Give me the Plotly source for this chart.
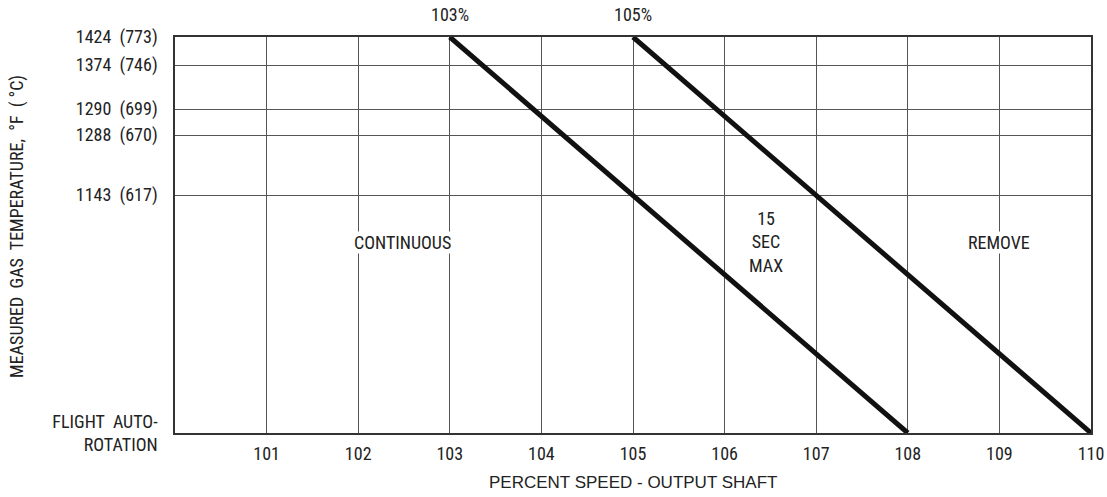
import plotly.graph_objects as go

# Speed axis (percent output shaft speed)
speed_ticks = [101, 102, 103, 104, 105, 106, 107, 108, 109, 110]

# Temperature levels, plotted on the chart's own vertical scale (bottom = 0)
temp_levels = [0, 238, 298, 324, 368, 396]
temp_labels = ["FLIGHT  AUTO-<br>ROTATION", "1143  (617)", "1288  (670)",
               "1290  (699)", "1374  (746)", "1424  (773)"]

# Limit lines: speed at the top temperature and at flight auto-rotation
limit_names = ["103%", "105%"]
limit_top_speed = [103, 105]
limit_bottom_speed = [108, 110]

TOP = temp_levels[-1]
BOTTOM = temp_levels[0]

NARROW = "Liberation Sans Narrow, Arial Narrow, Roboto Condensed, sans-serif"
WIDE = "Liberation Sans, Arial, Helvetica, sans-serif"
INK = "#222222"
FS = 18

fig = go.Figure()

for name, s0, s1 in zip(limit_names, limit_top_speed, limit_bottom_speed):
    fig.add_trace(go.Scatter(
        x=[s0, s1], y=[TOP, BOTTOM], mode="lines",
        line=dict(color="#111111", width=5),
        showlegend=False, hoverinfo="skip", name=name))
    fig.add_annotation(x=s0, y=TOP, text=name, showarrow=False,
                       yanchor="bottom", yshift=10,
                       font=dict(family=NARROW, size=FS, color=INK))

# Region labels
fig.add_annotation(x=102.48, y=191, text="CONTINUOUS", showarrow=False,
                   bgcolor="white", borderpad=0,
                   font=dict(family=NARROW, size=FS, color=INK))
fig.add_annotation(x=106.45, y=191, text="15<br>SEC<br>MAX", showarrow=False,
                   font=dict(family=NARROW, size=FS, color=INK))
fig.add_annotation(x=109, y=191, text="REMOVE", showarrow=False,
                   bgcolor="white", borderpad=0,
                   font=dict(family=NARROW, size=FS, color=INK))

# Axis titles
fig.add_annotation(xref="paper", yref="paper", x=-0.1725, y=0.523,
                   text="MEASURED  GAS  TEMPERATURE,  &#176;F  ( &#176;C)",
                   textangle=-90, showarrow=False, xanchor="center", yanchor="middle",
                   font=dict(family=NARROW, size=FS, color=INK))
fig.add_annotation(xref="paper", yref="paper", x=0.5, y=0, yshift=-49,
                   text="PERCENT SPEED - OUTPUT SHAFT",
                   showarrow=False, xanchor="center", yanchor="middle",
                   font=dict(family=WIDE, size=17, color=INK))

fig.update_xaxes(
    range=[100, 110], tickvals=speed_ticks, ticktext=[str(v) for v in speed_ticks],
    showgrid=True, gridcolor="#555555", gridwidth=1,
    showline=True, linecolor="#333333", linewidth=1.5, mirror=True,
    zeroline=False, ticks="", ticklabelstandoff=4, automargin=False,
    tickfont=dict(family=NARROW, size=FS, color=INK),
)
fig.update_yaxes(
    range=[BOTTOM, TOP], tickvals=temp_levels, ticktext=temp_labels,
    showgrid=True, gridcolor="#555555", gridwidth=1,
    showline=True, linecolor="#333333", linewidth=1.5, mirror=True,
    zeroline=False, ticks="", ticklabelstandoff=12, automargin=False,
    tickfont=dict(family=NARROW, size=FS, color=INK),
)

fig.update_layout(
    width=1107, height=497,
    margin=dict(l=175, r=16, t=37, b=64),
    paper_bgcolor="white", plot_bgcolor="white",
    showlegend=False,
)

fig.write_html("out.html")
